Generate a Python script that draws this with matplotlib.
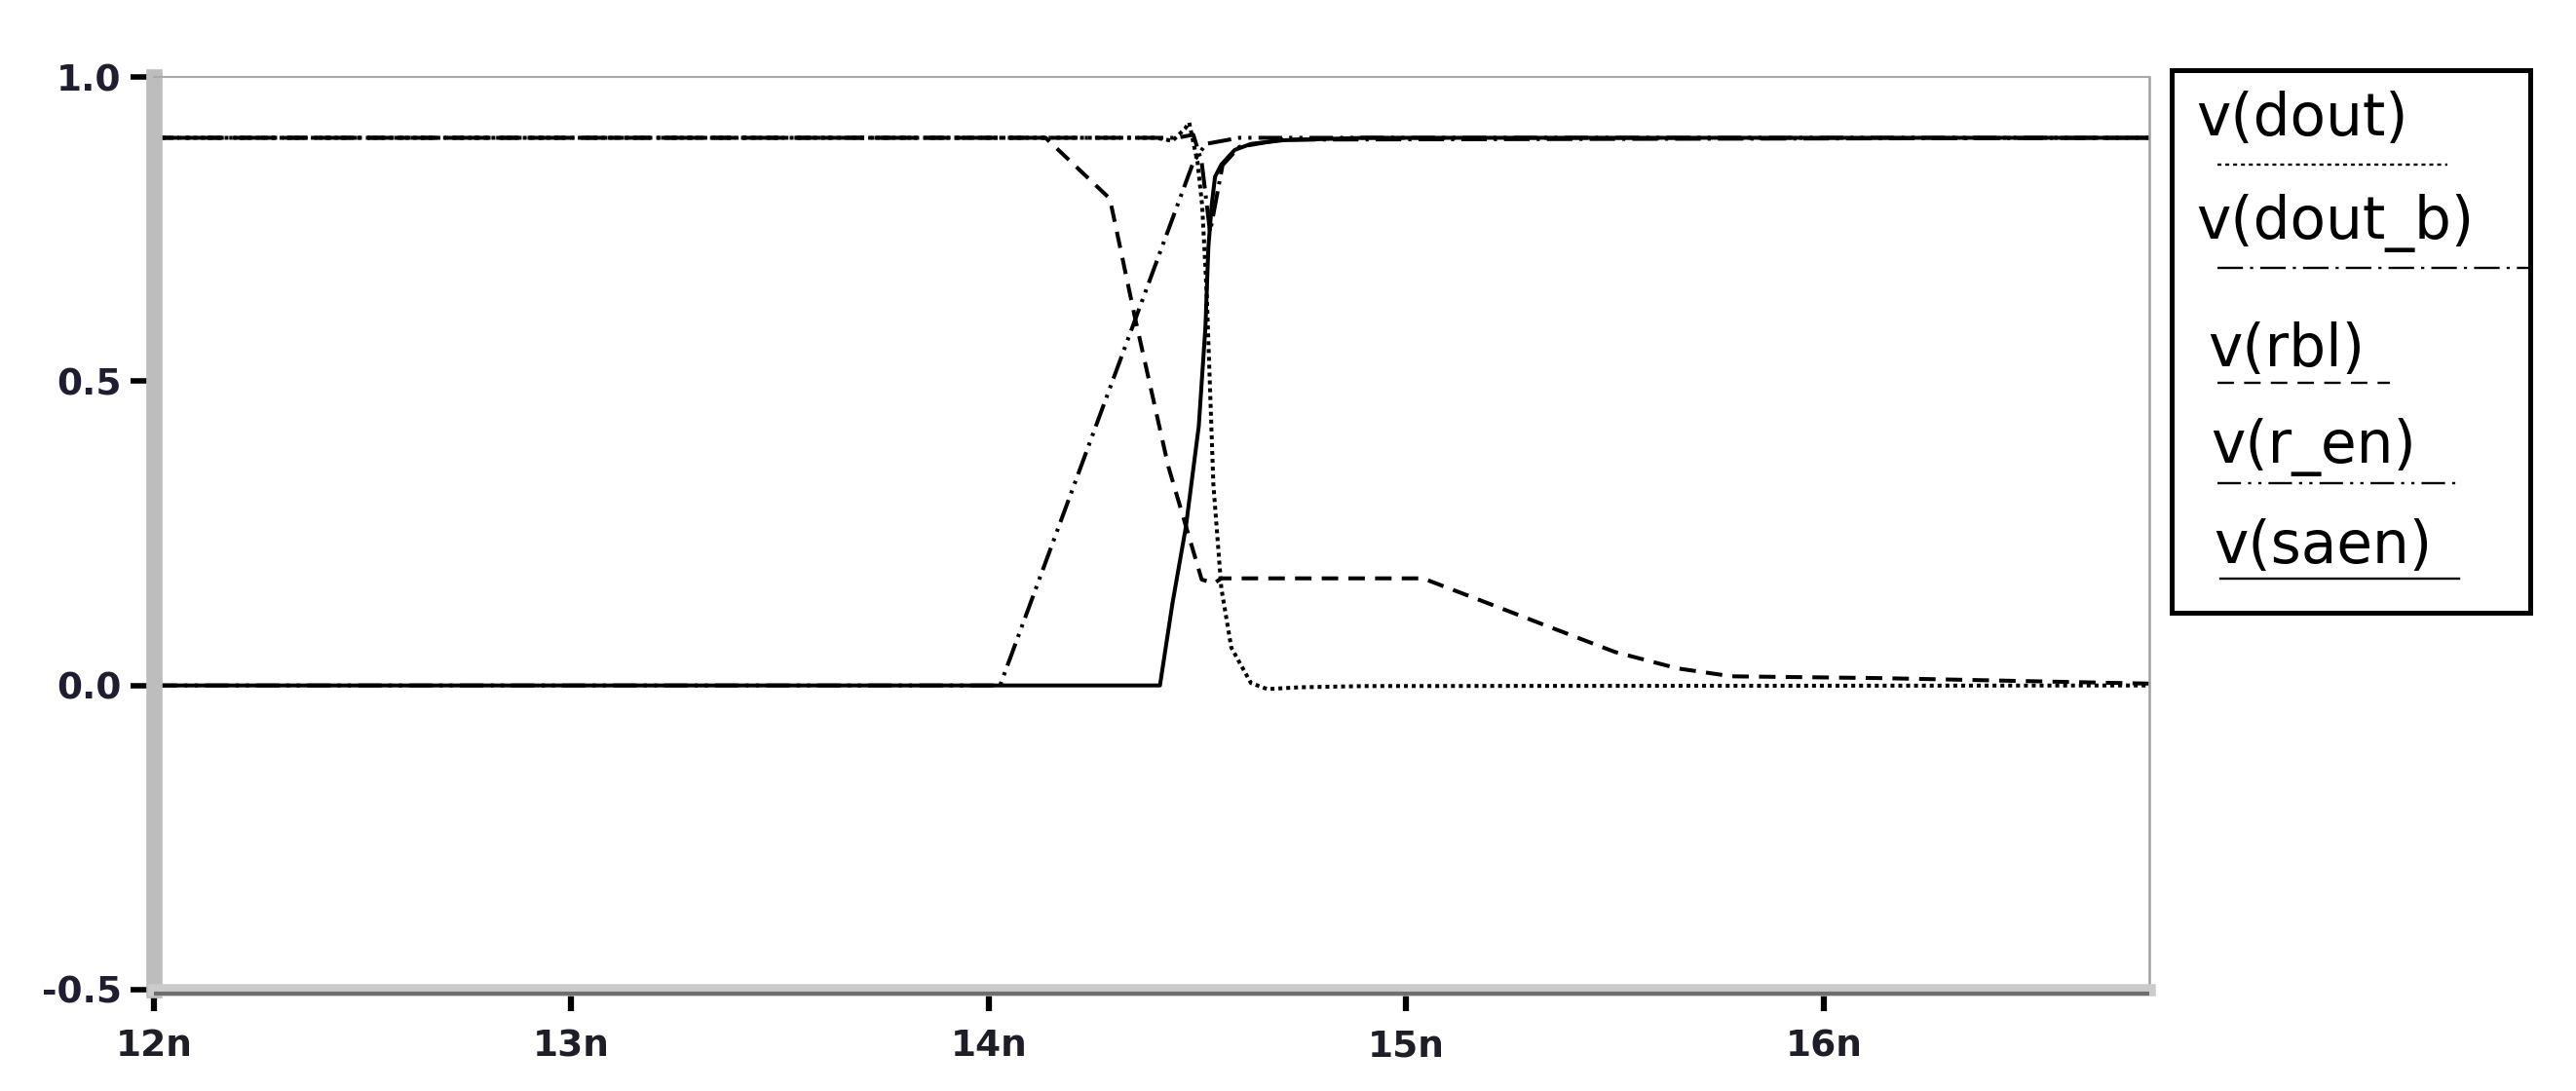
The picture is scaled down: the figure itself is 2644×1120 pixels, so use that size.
import matplotlib.pyplot as plt
from matplotlib.lines import Line2D
from matplotlib.patches import Rectangle
from matplotlib.transforms import offset_copy

# time axis in ns, voltages in V
t_dout = [12.0, 14.40, 14.44, 14.47, 14.48, 14.50, 14.511, 14.522, 14.538, 14.557, 14.581, 14.628, 14.667, 14.745, 14.9, 16.78]
v_dout = [0.9, 0.9, 0.895, 0.915, 0.925, 0.86, 0.79, 0.645, 0.33, 0.16, 0.062, 0.004, -0.006, -0.003, -0.001, 0.0]

t_dout_b = [12.0, 14.45, 14.49, 14.51, 14.53, 14.545, 14.56, 14.60, 14.70, 16.78]
v_dout_b = [0.9, 0.9, 0.905, 0.86, 0.745, 0.80, 0.855, 0.885, 0.897, 0.9]

t_rbl = [12.0, 14.136, 14.29, 14.35, 14.43, 14.51, 14.54, 14.557, 15.04, 15.20, 15.34, 15.50, 15.65, 15.78, 16.14, 16.78]
v_rbl = [0.9, 0.9, 0.80, 0.605, 0.36, 0.174, 0.168, 0.176, 0.176, 0.134, 0.097, 0.055, 0.028, 0.015, 0.012, 0.003]

t_r_en = [12.0, 14.027, 14.49, 14.52, 14.6, 16.78]
v_r_en = [0.0, 0.0, 0.86, 0.89, 0.9, 0.9]

t_saen = [12.0, 14.41, 14.44, 14.472, 14.503, 14.519, 14.526, 14.534, 14.542, 14.557, 14.589, 14.628, 14.706, 14.9, 16.78]
v_saen = [0.0, 0.0, 0.135, 0.26, 0.426, 0.59, 0.72, 0.79, 0.836, 0.856, 0.88, 0.89, 0.896, 0.9, 0.9]

names = ["v(dout)", "v(dout_b)", "v(rbl)", "v(r_en)", "v(saen)"]
x_ticks = [12, 13, 14, 15, 16]
x_labels = ["12n", "13n", "14n", "15n", "16n"]
y_ticks = [1.0, 0.5, 0.0, -0.5]
y_labels = ["1.0", "0.5", "0.0", "-0.5"]

# dash patterns in line-width units
dashes = {
    "v(dout)": [1, 1],
    "v(dout_b)": [6.5, 1.8, 0.8, 1.8],
    "v(rbl)": [4.2, 2.6],
    "v(r_en)": [6, 1.8, 0.8, 1.8, 0.8, 1.8],
    "v(saen)": None,
}

LW = 2.9
LEG_LW = 1.7


def style(name, scale=1.0):
    d = dashes[name]
    if d is None:
        return "-"
    return (0, [x * scale for x in d])


W, H = 2644, 1120
fig = plt.figure(figsize=(W / 100, H / 100), dpi=100)
ax = fig.add_axes([158 / W, 1 - 1016 / H, (2206 - 158) / W, (1016 - 79) / H])

series = [(t_dout, v_dout), (t_dout_b, v_dout_b), (t_rbl, v_rbl), (t_r_en, v_r_en), (t_saen, v_saen)]
for name, (t, v) in zip(names, series):
    ax.plot(t, v, color="black", lw=LW, linestyle=style(name))

ax.set_xlim(12, 16.78)
ax.set_ylim(-0.5, 1.0)
ax.set_xticks(x_ticks)
ax.set_xticklabels(x_labels, fontsize=27, fontweight="bold", color="#1e1e28")
ax.set_yticks(y_ticks)
ax.set_yticklabels(y_labels, fontsize=27, fontweight="bold", color="#1e1e30")
ax.tick_params(axis="x", direction="out", length=16, width=4.5, pad=13, color="black")
ax.tick_params(axis="y", direction="out", length=17, width=4, pad=7, color="black")

ax.spines["left"].set_color("#bdbdbd")
ax.spines["left"].set_linewidth(12)
ax.spines["bottom"].set_color("#cbcbcb")
ax.spines["bottom"].set_linewidth(9)
ax.spines["top"].set_color("#a8a8a8")
ax.spines["top"].set_linewidth(1.5)
ax.spines["right"].set_color("#a0a0a0")
ax.spines["right"].set_linewidth(1.8)

# darker lower edge of the bottom frame
ax.plot([0, 1], [0, 0], transform=offset_copy(ax.transAxes, fig, y=-4, units="dots"),
        color="#6e6e6e", lw=3, clip_on=False, solid_capstyle="butt", zorder=3)

# legend box drawn in figure pixels
fig.patches.append(Rectangle((2229 / W, 1 - 629 / H), (2597 - 2229) / W, (629 - 72) / H,
                             transform=fig.transFigure, fill=False, edgecolor="black", lw=3.6))
text_x = [2254, 2254, 2266, 2269, 2272]
text_y = [122, 229, 359, 459, 561]
line_y = [169, 275, 393, 496, 594]
line_x0 = [2276, 2276, 2276, 2276, 2279]
line_x1 = [2512, 2597, 2453, 2526, 2524]
for i, name in enumerate(names):
    fig.text(text_x[i] / W, 1 - text_y[i] / H, name, fontsize=43, va="center", ha="left")
    fig.lines.append(Line2D([line_x0[i] / W, line_x1[i] / W], [1 - line_y[i] / H] * 2,
                            transform=fig.transFigure, color="black", lw=LEG_LW,
                            linestyle=style(name, LW / LEG_LW)))

fig.savefig("out.png", dpi=100)
